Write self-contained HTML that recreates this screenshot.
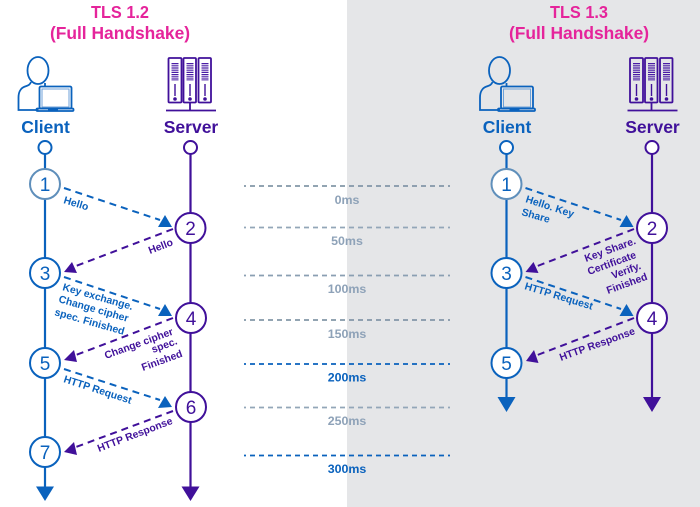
<!DOCTYPE html>
<html><head><meta charset="utf-8"><style>
html,body{margin:0;padding:0;background:#fff}
svg{display:block}
text{font-family:"Liberation Sans",sans-serif}
.b{fill:#0a62bd}.p{fill:#40109a}
.s{font-size:10.4px;font-weight:700}
.n{font-size:19px;text-anchor:middle}
.t{font-size:17.4px;font-weight:700;fill:#e5249b;text-anchor:middle}
.h{font-size:17.5px;font-weight:700;text-anchor:middle}
.m{font-size:12.4px;font-weight:700;text-anchor:middle}
</style></head><body>
<svg width="700" height="507" viewBox="0 0 700 507" xmlns="http://www.w3.org/2000/svg">
<defs>
<g id="client" fill="none" stroke="#0a62bd" stroke-width="1.800">
<ellipse cx="38" cy="70.500" rx="10.500" ry="13.500"/>
<path d="M31 82c-1 3-3 3.500-6 4.500-4.500 1.500-6.500 6-6.500 11v12.500h20M45 83v3"/>
<rect x="39.500" y="86.500" width="32" height="22" rx="1.500"/>
<rect x="42" y="89" width="27" height="18" stroke="#6fa2d8" stroke-width="1"/>
<rect x="36.500" y="108.500" width="37" height="2.500" rx="1"/>
<path d="M48 109.500h10" stroke-width="2.200"/>
</g>
<g id="server" fill="none" stroke="#40109a" stroke-width="1.800">
<rect x="168.500" y="58" width="13" height="44.500" rx="1"/>
<rect x="183.500" y="58" width="12.500" height="44.500" rx="1"/>
<rect x="198.500" y="58" width="12.500" height="44.500" rx="1"/>
<path d="M175 63v18M190 63v18M205 63v18" stroke-width="7" stroke-dasharray="1.200 1" stroke="#4a1ca5"/>
<path d="M175 84v12M190 84v12M205 84v12" stroke-width="1.400"/>
<circle cx="175" cy="99" r=".9" fill="#40109a"/>
<circle cx="190" cy="99" r=".9" fill="#40109a"/>
<circle cx="205" cy="99" r=".9" fill="#40109a"/>
<path d="M190 102v8M166 110.500h50"/>
</g>
</defs>
<rect x="347" y="0" width="353" height="507" fill="#e5e6e8"/>

<!-- titles -->
<text class="t" x="120" y="18" textLength="58" lengthAdjust="spacingAndGlyphs">TLS 1.2</text>
<text class="t" x="120" y="39">(Full Handshake)</text>
<text class="t" x="579" y="18" textLength="58" lengthAdjust="spacingAndGlyphs">TLS 1.3</text>
<text class="t" x="579" y="39">(Full Handshake)</text>

<use href="#client"/>
<use href="#server"/>
<use href="#client" x="461.500"/>
<use href="#server" x="461.500"/>
<text class="h b" x="45.500" y="133">Client</text>
<text class="h p" x="191" y="133">Server</text>
<text class="h b" x="507" y="133">Client</text>
<text class="h p" x="652.500" y="133">Server</text>

<!-- timeline -->
<g fill="none" stroke-width="1.800" stroke-dasharray="5 4" stroke-dashoffset="3">
<path d="M244 186h206" stroke="#8397a8"/>
<path d="M244 227.500h206" stroke="#93a6b8"/>
<path d="M244 275.500h206" stroke="#8a9fb2"/>
<path d="M244 320h206" stroke="#8397a8"/>
<path d="M244 364h206" stroke="#0a62bd"/>
<path d="M244 407.500h206" stroke="#93a6b8"/>
<path d="M244 455.500h206" stroke="#0a62bd"/>
</g>
<g fill="#8ea2b8">
<text class="m" x="347" y="204">0ms</text>
<text class="m" x="347" y="245">50ms</text>
<text class="m" x="347" y="293">100ms</text>
<text class="m" x="347" y="338">150ms</text>
<text class="m" x="347" y="381.500" fill="#0a62bd">200ms</text>
<text class="m" x="347" y="425">250ms</text>
<text class="m" x="347" y="473" fill="#0a62bd">300ms</text>
</g>

<!-- left lifelines -->
<path d="M45 154V488" stroke="#0a62bd" stroke-width="2.200" fill="none"/>
<path d="M190.500 154V488" stroke="#40109a" stroke-width="2.200" fill="none"/>
<polygon points="36,486.500 54,486.500 45,501" fill="#0a62bd"/>
<polygon points="181.500,486.500 199.500,486.500 190.500,501" fill="#40109a"/>
<circle cx="45" cy="147.500" r="6.500" fill="#fff" stroke="#0a62bd" stroke-width="2"/>
<circle cx="190.500" cy="147.500" r="6.500" fill="#fff" stroke="#40109a" stroke-width="2"/>

<!-- right lifelines -->
<path d="M506.500 154V399" stroke="#0a62bd" stroke-width="2.200" fill="none"/>
<path d="M652 154V399" stroke="#40109a" stroke-width="2.200" fill="none"/>
<polygon points="497.500,397 515.500,397 506.500,412" fill="#0a62bd"/>
<polygon points="643,397 661,397 652,412" fill="#40109a"/>
<circle cx="506.500" cy="147.500" r="6.500" fill="#fff" stroke="#0a62bd" stroke-width="2"/>
<circle cx="652" cy="147.500" r="6.500" fill="#fff" stroke="#40109a" stroke-width="2"/>

<!-- dashed arrows -->
<g fill="none" stroke-width="2" stroke-dasharray="7 5">
<path d="M64 188L160 220" stroke="#0a62bd"/>
<path d="M173 229L76 266" stroke="#40109a"/>
<path d="M64 277L160 309" stroke="#0a62bd"/>
<path d="M173 318L76 355" stroke="#40109a"/>
<path d="M64 369L160 400" stroke="#0a62bd"/>
<path d="M173 411L76 447" stroke="#40109a"/>
<path d="M525.500 188L621 220" stroke="#0a62bd"/>
<path d="M634 229L537.500 266" stroke="#40109a"/>
<path d="M525.500 277L621 309" stroke="#0a62bd"/>
<path d="M634 318L537.500 355" stroke="#40109a"/>
</g>
<g class="b">
<polygon points="172,227 158,227 165,215"/>
<polygon points="172,316 158,316 165,304"/>
<polygon points="172,407 158,408 165,396"/>
<polygon points="633.500,227 619.500,227 626.500,215"/>
<polygon points="633.500,316 619.500,316 626.500,304"/>
</g>
<g class="p">
<polygon points="64,272 77,273 72,262"/>
<polygon points="64,360 77,362 74,350"/>
<polygon points="64,452 77,455 74,442"/>
<polygon points="525.500,272 538.500,273 533.500,262"/>
<polygon points="526,361 538.500,363 534,350"/>
</g>

<!-- nodes -->
<g fill="#fff" stroke-width="2">
<circle cx="45" cy="184" r="15" stroke="#5f8fbb"/>
<circle cx="190.500" cy="228" r="15" stroke="#40109a"/>
<circle cx="45" cy="273" r="15" stroke="#0a62bd"/>
<circle cx="191" cy="318" r="15" stroke="#40109a"/>
<circle cx="45" cy="363" r="15" stroke="#0a62bd"/>
<circle cx="191" cy="407" r="15" stroke="#40109a"/>
<circle cx="45" cy="452" r="15" stroke="#0a62bd"/>
<circle cx="506.500" cy="184" r="15" stroke="#5f8fbb"/>
<circle cx="652" cy="228" r="15" stroke="#40109a"/>
<circle cx="506.500" cy="273" r="15" stroke="#0a62bd"/>
<circle cx="652" cy="318" r="15" stroke="#40109a"/>
<circle cx="506.500" cy="363" r="15" stroke="#0a62bd"/>
</g>
<text class="n b" x="45" y="191">1</text>
<text class="n p" x="190.500" y="235">2</text>
<text class="n b" x="45" y="280">3</text>
<text class="n p" x="191" y="325">4</text>
<text class="n b" x="45" y="370">5</text>
<text class="n p" x="191" y="414">6</text>
<text class="n b" x="45" y="459">7</text>
<text class="n b" x="506.500" y="191">1</text>
<text class="n p" x="652" y="235">2</text>
<text class="n b" x="506.500" y="280">3</text>
<text class="n p" x="652" y="325">4</text>
<text class="n b" x="506.500" y="370">5</text>

<!-- left labels -->
<text class="s b" transform="translate(63 203) rotate(17)">Hello</text>
<text class="s p" transform="translate(150 254) rotate(-21)">Hello</text>
<text class="s b" transform="translate(62 290) rotate(16)">Key exchange.</text>
<text class="s b" transform="translate(58 302) rotate(16)">Change cipher</text>
<text class="s b" transform="translate(54 315) rotate(16)">spec. Finished</text>
<text class="s p" transform="translate(106 359) rotate(-20)">Change cipher</text>
<text class="s p" transform="translate(153 353) rotate(-20)">spec.</text>
<text class="s p" transform="translate(143 371) rotate(-20)">Finished</text>
<text class="s b" transform="translate(63 382) rotate(18)">HTTP Request</text>
<text class="s p" transform="translate(99 452) rotate(-21)">HTTP Response</text>

<!-- right labels -->
<text class="s b" transform="translate(525 202) rotate(18)">Hello. Key</text>
<text class="s b" transform="translate(521 215) rotate(16)">Share</text>
<text class="s p" transform="translate(586 262) rotate(-20)">Key Share.</text>
<text class="s p" transform="translate(589 275) rotate(-20)">Certificate</text>
<text class="s p" transform="translate(613 279) rotate(-20)">Verify.</text>
<text class="s p" transform="translate(608 294) rotate(-20)">Finished</text>
<text class="s b" transform="translate(524 289) rotate(17)">HTTP Request</text>
<text class="s p" transform="translate(561 361) rotate(-20)">HTTP Response</text>
</svg>
</body></html>
